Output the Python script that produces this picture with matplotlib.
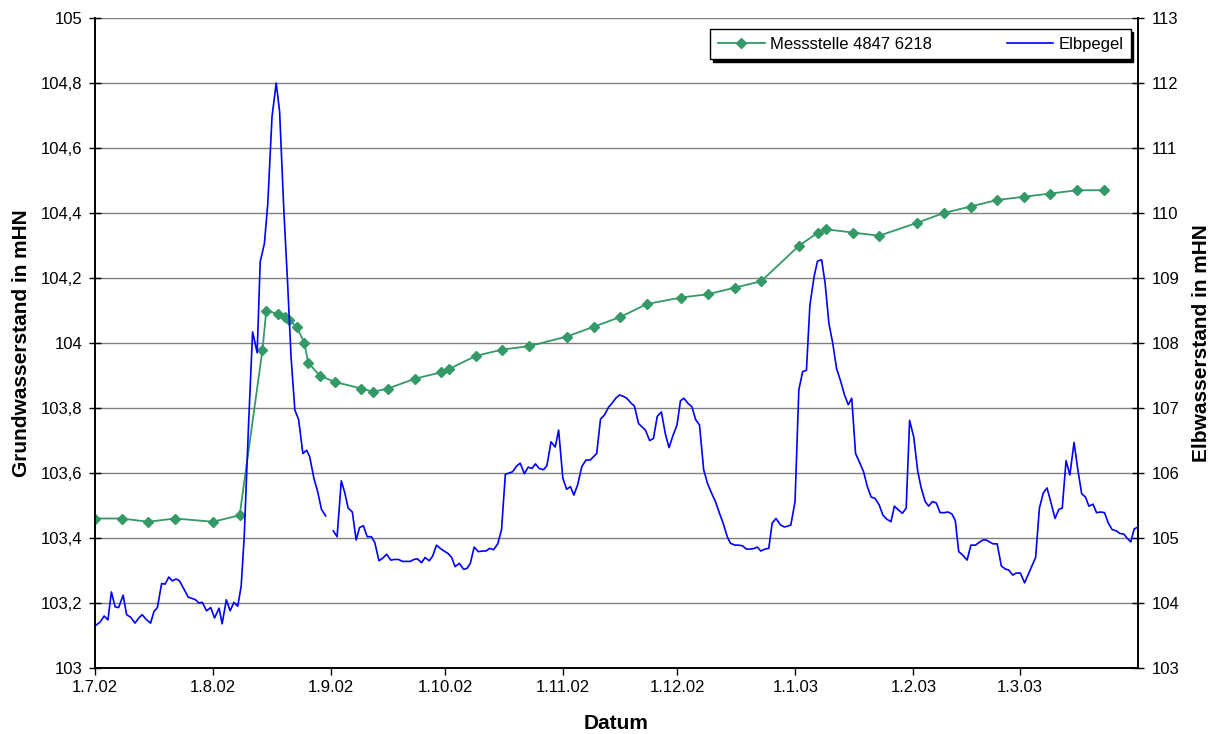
import datetime as dt
import numpy as np
import matplotlib
matplotlib.use("Agg")
import matplotlib.pyplot as plt
import matplotlib.dates as mdates
from matplotlib.ticker import FuncFormatter, FixedLocator

plt.rcParams['font.family'] = ['Liberation Sans', 'DejaVu Sans']

# ---------------- data ----------------
start_date = dt.datetime(2002, 7, 1)

# Messstelle 4847 6218 (groundwater, left axis) - days after 1.7.02
gw_days = [0, 7, 14, 21, 31, 38, 44, 45, 48, 50, 51, 53, 55, 56, 59, 63, 70, 73, 77, 84,
           91, 93, 100, 107, 114, 124, 131, 138, 145, 154, 161, 168, 175, 185, 190, 192,
           199, 206, 216, 223, 230, 237, 244, 251, 258, 265]
gw_level = [103.46, 103.46, 103.45, 103.46, 103.45, 103.47, 103.98, 104.10, 104.09, 104.08,
            104.07, 104.05, 104.00, 103.94, 103.90, 103.88, 103.86, 103.85, 103.86, 103.89,
            103.91, 103.92, 103.96, 103.98, 103.99, 104.02, 104.05, 104.08, 104.12, 104.14,
            104.15, 104.17, 104.19, 104.30, 104.34, 104.35, 104.34, 104.33, 104.37, 104.40,
            104.42, 104.44, 104.45, 104.46, 104.47, 104.47]

# Elbpegel (river level, right axis) - days after 1.7.02 (nan = missing)
elb_days = [0.3, 1.4, 2.4, 3.4, 4.3, 5.3, 6.2, 7.4, 8.3, 9.4, 10.5, 11.5, 12.4, 13.4, 14.6,
            15.5, 16.4, 17.5, 18.4, 19.4, 20.3, 21.3, 22.2, 23.4, 24.5, 25.5, 26.4, 27.3,
            28.2, 29.3, 30.4, 31.4, 32.6, 33.4, 34.5, 35.5, 36.5, 37.5, 38.4, 39.2, 40.3,
            41.4, 42.6, 43.4, 44.5, 45.4, 46.5, 47.6, 48.5, 49.6, 50.6, 51.5, 52.5, 53.5,
            54.6, 55.6, 56.4, 57.5, 58.5, 59.5, 60.6, 61.6, 62.6, 63.6, 64.7, 65.6, 66.5,
            67.6, 68.6, 69.5, 70.5, 71.5, 72.6, 73.5, 74.6, 75.6, 76.6, 77.7, 78.7, 79.7,
            80.8, 81.9, 82.8, 83.8, 84.7, 85.8, 86.7, 87.8, 88.7, 89.7, 90.7, 91.7, 92.8,
            93.7, 94.6, 95.7, 96.8, 97.7, 98.6, 99.6, 100.7, 101.8, 102.7, 103.7, 104.7,
            105.8, 106.8, 107.8, 108.8, 109.7, 110.8, 111.7, 112.8, 113.8, 114.8, 115.7,
            116.7, 117.8, 118.7, 119.8, 120.9, 121.8, 122.9, 123.9, 124.9, 125.8, 126.8,
            127.9, 129.0, 130.1, 131.8, 132.8, 133.8, 134.9, 135.9, 136.8, 137.8, 138.8,
            139.7, 140.9, 141.7, 142.8, 143.7, 144.6, 145.7, 146.7, 147.7, 148.8, 149.8,
            150.8, 151.8, 152.9, 153.8, 154.7, 155.8, 156.8, 157.8, 158.8, 159.9, 160.9,
            161.9, 163.0, 164.0, 165.0, 166.1, 166.9, 168.1, 169.1, 170.1, 171.1, 172.2,
            173.2, 174.0, 174.9, 176.0, 177.0, 177.9, 178.9, 180.1, 181.1, 181.9, 182.8,
            183.9, 184.9, 185.9, 186.9, 187.8, 188.9, 189.8, 190.9, 191.8, 192.8, 193.8,
            194.8, 195.9, 196.9, 197.9, 198.8, 199.8, 200.8, 201.9, 202.9, 203.9, 204.9,
            206.0, 207.0, 208.0, 209.1, 210.0, 211.1, 212.1, 213.1, 214.0, 215.1, 216.1,
            217.0, 218.1, 219.0, 220.0, 221.0, 222.0, 223.1, 224.1, 225.1, 226.0, 226.9,
            227.9, 229.1, 230.1, 231.3, 232.2, 233.3, 234.1, 235.0, 235.9, 237.0, 238.1,
            239.2, 240.0, 241.1, 242.0, 243.1, 244.2, 245.1, 246.2, 247.1, 248.1, 249.1,
            250.1, 251.2, 252.2, 253.2, 254.1, 255.1, 256.1, 257.2, 258.2, 259.2, 260.2,
            261.1, 262.2, 263.1, 264.2, 265.2, 266.2, 267.2, 268.3, 269.2, 270.3, 271.1,
            272.1, 273.0, 274.1]
elb_level = [103.66, 103.71, 103.80, 103.74, 104.17, 103.94, 103.93, 104.12, 103.82, 103.78,
             103.69, 103.77, 103.82, 103.75, 103.69, 103.87, 103.93, 104.30, 104.29, 104.40,
             104.34, 104.37, 104.34, 104.21, 104.09, 104.07, 104.05, 104.00, 104.01, 103.88,
             103.93, 103.77, 103.92, 103.68, 104.05, 103.88, 104.01, 103.95, 104.26, 105.02,
             106.69, 108.17, 107.85, 109.25, 109.53, 110.15, 111.48, 112.00, 111.56, 110.05,
             108.92, 107.79, 106.97, 106.82, 106.30, 106.35, 106.25, 105.92, 105.71, 105.44,
             105.34, np.nan, 105.11, 105.02, 105.88, 105.70, 105.46, 105.40, 104.97, 105.16,
             105.19, 105.02, 105.02, 104.93, 104.65, 104.69, 104.75, 104.66, 104.67, 104.67,
             104.64, 104.64, 104.64, 104.67, 104.68, 104.62, 104.70, 104.65, 104.72, 104.89,
             104.84, 104.80, 104.76, 104.70, 104.56, 104.61, 104.52, 104.53, 104.61, 104.86,
             104.79, 104.80, 104.80, 104.84, 104.82, 104.91, 105.13, 105.98, 106.00, 106.02,
             106.11, 106.15, 105.99, 106.09, 106.07, 106.14, 106.07, 106.05, 106.11, 106.48,
             106.40, 106.66, 105.92, 105.75, 105.79, 105.66, 105.82, 106.10, 106.20, 106.20,
             106.30, 106.83, 106.89, 107.01, 107.08, 107.15, 107.20, 107.18, 107.15, 107.07,
             107.03, 106.76, 106.71, 106.66, 106.50, 106.53, 106.87, 106.94, 106.61, 106.39,
             106.57, 106.74, 107.11, 107.15, 107.07, 107.02, 106.82, 106.74, 106.05, 105.84,
             105.70, 105.56, 105.39, 105.23, 105.02, 104.92, 104.89, 104.89, 104.88, 104.83,
             104.83, 104.84, 104.86, 104.80, 104.83, 104.84, 105.23, 105.30, 105.20, 105.17,
             105.18, 105.20, 105.56, 107.28, 107.56, 107.58, 108.58, 109.02, 109.26, 109.28,
             108.92, 108.30, 108.00, 107.61, 107.41, 107.20, 107.05, 107.15, 106.30, 106.17,
             106.02, 105.79, 105.63, 105.61, 105.51, 105.35, 105.29, 105.25, 105.49, 105.43,
             105.38, 105.46, 106.81, 106.55, 106.04, 105.78, 105.56, 105.49, 105.56, 105.54,
             105.39, 105.39, 105.40, 105.37, 105.27, 104.79, 104.74, 104.66, 104.89, 104.89,
             104.93, 104.97, 104.97, 104.94, 104.91, 104.91, 104.57, 104.52, 104.51, 104.43,
             104.46, 104.46, 104.31, 104.43, 104.58, 104.70, 105.46, 105.69, 105.77, 105.53,
             105.30, 105.44, 105.46, 106.19, 105.97, 106.47, 106.05, 105.68, 105.63, 105.49,
             105.52, 105.39, 105.40, 105.39, 105.23, 105.13, 105.11, 105.07, 105.06, 105.00,
             104.94, 105.14, 105.17]

x_tick_dates = [dt.datetime(2002, 7, 1), dt.datetime(2002, 8, 1), dt.datetime(2002, 9, 1),
                dt.datetime(2002, 10, 1), dt.datetime(2002, 11, 1), dt.datetime(2002, 12, 1),
                dt.datetime(2003, 1, 1), dt.datetime(2003, 2, 1), dt.datetime(2003, 3, 1)]
x_end_date = dt.datetime(2003, 4, 1)

# ---------------- plot ----------------
base = mdates.date2num(start_date)
gw_x = base + np.array(gw_days, dtype=float)
elb_x = base + np.array(elb_days, dtype=float)

fig = plt.figure(figsize=(12.15, 7.34), dpi=100)
ax = fig.add_axes([95 / 1215, 1 - 668 / 734, (1138 - 95) / 1215, 650 / 734])
ax2 = ax.twinx()

green = '#339966'
blue = '#0000FF'

l1, = ax.plot(gw_x, gw_level, color=green, lw=1.3, marker='D', markersize=5.5,
              markeredgecolor=green, markerfacecolor=green, label='Messstelle 4847 6218',
              zorder=3)
l2, = ax2.plot(elb_x, elb_level, color=blue, lw=1.2, label='Elbpegel', zorder=3)

ax.set_xlim(base, mdates.date2num(x_end_date))
ax.set_ylim(103, 105)
ax2.set_ylim(103, 113)

ax.xaxis.set_major_locator(FixedLocator(mdates.date2num(x_tick_dates)))
ax.xaxis.set_major_formatter(FuncFormatter(
    lambda v, p: (lambda d: f"{d.day}.{d.month}.{d.strftime('%y')}")(mdates.num2date(v))))

ax.set_yticks(np.arange(103, 105.001, 0.2))
ax.yaxis.set_major_formatter(FuncFormatter(lambda v, p: f"{round(v, 1):g}".replace('.', ',')))
ax2.set_yticks(np.arange(103, 113.5, 1))
ax2.yaxis.set_major_formatter(FuncFormatter(lambda v, p: f"{v:.0f}"))

ax.grid(axis='y', color='#808080', lw=1.0)
ax.set_axisbelow(True)

for a in (ax, ax2):
    for s in a.spines.values():
        s.set_color('black')
        s.set_linewidth(1.2)
ax.spines['top'].set_visible(False)
ax2.spines['top'].set_visible(False)

ax.tick_params(axis='y', direction='inout', length=8, width=1, labelsize=12, pad=5)
ax2.tick_params(axis='y', direction='inout', length=8, width=1, labelsize=12, pad=6)
ax.tick_params(axis='x', direction='out', length=5, width=1, labelsize=12, pad=4)

ax.set_xlabel('Datum', fontsize=15, fontweight='bold', labelpad=13)
ax.set_ylabel('Grundwasserstand in mHN', fontsize=15, fontweight='bold', labelpad=7)
ax2.set_ylabel('Elbwasserstand in mHN', fontsize=15, fontweight='bold', labelpad=9)

leg = ax2.legend(handles=[l1, l2], loc='upper right', bbox_to_anchor=(0.993, 0.983),
                 ncol=2, fontsize=12, frameon=True, fancybox=False,
                 shadow={'color': 'black', 'alpha': 1.0}, borderaxespad=0,
                 handlelength=2.8, columnspacing=4.5, borderpad=0.45, handletextpad=0.3)
leg.get_frame().set_edgecolor('black')
leg.get_frame().set_linewidth(1.0)
leg.get_frame().set_alpha(1.0)

fig.savefig('out.png', dpi=100)
